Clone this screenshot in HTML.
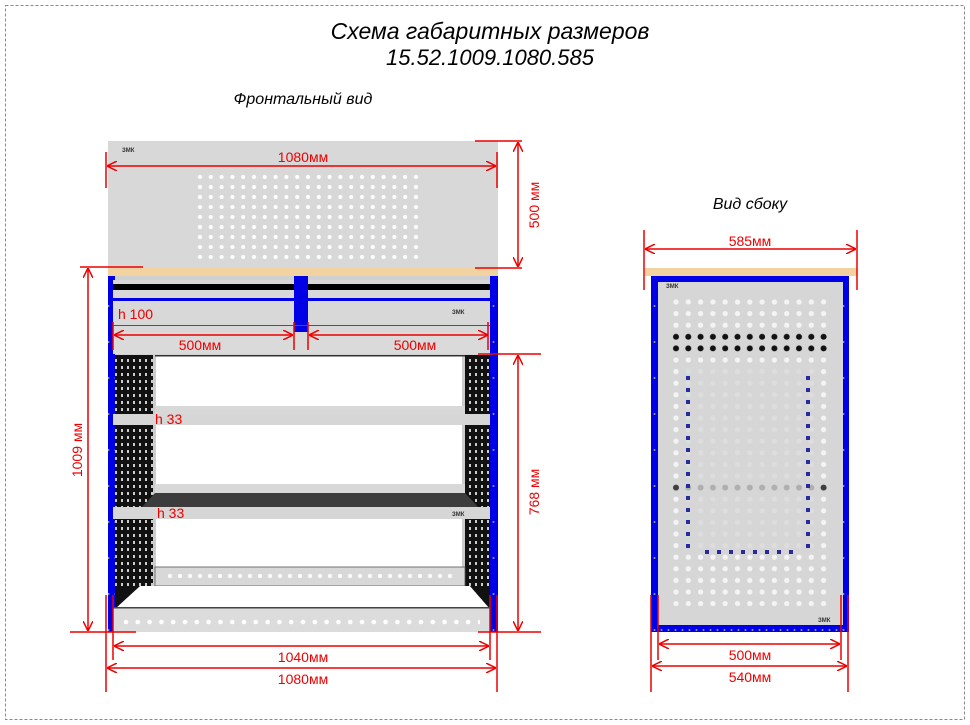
<!DOCTYPE html>
<html><head><meta charset="utf-8"><style>
html,body{margin:0;padding:0;background:#fff;}
svg{display:block;font-family:"Liberation Sans",sans-serif;}
</style></head><body>
<svg width="970" height="725" viewBox="0 0 970 725" xmlns="http://www.w3.org/2000/svg">
<defs>
<pattern id="pd" x="195" y="162" width="10.8" height="10" patternUnits="userSpaceOnUse"><circle cx="5" cy="5" r="2" fill="#fff"/></pattern>
<pattern id="perf" x="0" y="0" width="6" height="7" patternUnits="userSpaceOnUse"><rect width="6" height="7" fill="#111"/><rect x="1" y="2" width="2" height="3" fill="#ccc"/></pattern>
<pattern id="sd" x="670" y="296" width="12.3" height="11.6" patternUnits="userSpaceOnUse"><circle cx="6" cy="6" r="2.6" fill="#f4f4f4"/></pattern>
<pattern id="sdk" x="670" y="296" width="12.3" height="11.6" patternUnits="userSpaceOnUse"><circle cx="6" cy="6" r="3" fill="#111"/></pattern>
<pattern id="bd" x="120" y="610" width="11.8" height="20" patternUnits="userSpaceOnUse"><circle cx="6" cy="12" r="2.3" fill="#fff"/></pattern>
<pattern id="bd2" x="165" y="566" width="10" height="20" patternUnits="userSpaceOnUse"><circle cx="5" cy="10" r="2" fill="#fff"/></pattern>
<pattern id="blue" x="0" y="0" width="7" height="36" patternUnits="userSpaceOnUse"><rect width="7" height="36" fill="#0000e6"/><circle cx="3.5" cy="18" r="1" fill="#99a"/></pattern>
<marker id="a" viewBox="0 0 10 10" refX="10" refY="5" markerWidth="10" markerHeight="10" orient="auto-start-reverse" markerUnits="userSpaceOnUse"><path d="M0,0 L10,5 L0,10" fill="none" stroke="#e00" stroke-width="1.5"/></marker>
</defs>
<rect x="5.5" y="5.5" width="959" height="714" fill="none" stroke="#888" stroke-dasharray="3,2"/>
<g font-style="italic" fill="#000" text-anchor="middle">
<text x="490" y="39" font-size="23">Схема габаритных размеров</text>
<text x="490" y="65" font-size="22">15.52.1009.1080.585</text>
<text x="303" y="104" font-size="16">Фронтальный вид</text>
<text x="750" y="209" font-size="16">Вид сбоку</text>
</g>

<rect x="108" y="141" width="390" height="127" fill="#d8d8d8"/>
<rect x="195" y="170" width="227" height="92" fill="url(#pd)"/>
<text x="122" y="152" font-size="6" font-weight="bold" fill="#333">ЗМК</text>
<rect x="108" y="268" width="390" height="8" fill="#f3d2a2"/>
<rect x="108" y="276" width="390" height="356" fill="#d0d0d0"/>
<rect x="108" y="276" width="7" height="356" fill="url(#blue)"/>
<rect x="490" y="276" width="8" height="356" fill="url(#blue)"/>
<rect x="113" y="280" width="181" height="52" fill="#d8d8d8"/>
<rect x="308" y="280" width="182" height="52" fill="#d8d8d8"/>
<rect x="113" y="284" width="182" height="6" fill="#000"/>
<rect x="308" y="284" width="182" height="6" fill="#000"/>
<rect x="113" y="298" width="182" height="3" fill="#0000e6"/>
<rect x="308" y="298" width="182" height="3" fill="#0000e6"/>
<rect x="294" y="276" width="14" height="56" fill="#0000e6"/>
<rect x="113" y="325" width="377" height="1" fill="#555"/>
<rect x="113" y="332" width="377" height="22" fill="#dadada"/>
<text x="452" y="314" font-size="6" font-weight="bold" fill="#333">ЗМК</text>
<rect x="115" y="355" width="38" height="254" fill="url(#perf)"/>
<rect x="465" y="355" width="25" height="254" fill="url(#perf)"/>
<rect x="153" y="355" width="312" height="253" fill="#fff"/>
<rect x="153" y="355" width="3" height="253" fill="#ccc"/>
<rect x="462" y="355" width="3" height="253" fill="#ccc"/>
<rect x="155" y="355" width="310" height="1.5" fill="#333"/>
<rect x="155" y="406" width="310" height="10" fill="#d8d8d8"/>
<rect x="113" y="414" width="377" height="11" fill="#d6d6d6"/>
<rect x="155" y="484" width="310" height="10" fill="#d8d8d8"/>
<path d="M140,509 L155,493 L465,493 L480,509 Z" fill="#3c3c3c"/>
<rect x="113" y="507" width="377" height="12" fill="#d6d6d6"/>
<text x="452" y="516" font-size="6" font-weight="bold" fill="#333">ЗМК</text>
<rect x="155" y="567" width="310" height="19" fill="#d8d8d8" stroke="#555" stroke-width="0.8"/>
<rect x="165" y="566" width="290" height="20" fill="url(#bd2)"/>
<path d="M113,609 L140,586 L470,586 L490,609 Z" fill="#fff"/>
<path d="M115,609 L115,586 L140,586 Z" fill="#111"/>
<path d="M490,609 L490,586 L470,586 Z" fill="#111"/>
<rect x="113" y="607" width="377" height="25" fill="#dcdcdc"/>
<rect x="113" y="607" width="377" height="1.5" fill="#444"/>
<rect x="120" y="608" width="360" height="22" fill="url(#bd)"/>

<g stroke="#e00" stroke-width="1.5" fill="none">
<line x1="106" y1="152" x2="106" y2="188"/><line x1="497" y1="152" x2="497" y2="188"/>
<line x1="107" y1="166" x2="496" y2="166" marker-start="url(#a)" marker-end="url(#a)"/>
<line x1="475" y1="141" x2="522" y2="141"/><line x1="475" y1="268" x2="522" y2="268"/>
<line x1="518" y1="142" x2="518" y2="267" marker-start="url(#a)" marker-end="url(#a)"/>
<line x1="80" y1="267" x2="143" y2="267"/><line x1="70" y1="632" x2="136" y2="632"/>
<line x1="88" y1="268" x2="88" y2="631" marker-start="url(#a)" marker-end="url(#a)"/>
<line x1="114" y1="335" x2="293" y2="335" marker-start="url(#a)" marker-end="url(#a)"/>
<line x1="309" y1="335" x2="488" y2="335" marker-start="url(#a)" marker-end="url(#a)"/>
<line x1="113" y1="322" x2="113" y2="350"/><line x1="294" y1="322" x2="294" y2="350"/>
<line x1="308" y1="322" x2="308" y2="350"/><line x1="488" y1="322" x2="488" y2="350"/>
<line x1="478" y1="354" x2="541" y2="354"/><line x1="478" y1="632" x2="541" y2="632"/>
<line x1="518" y1="355" x2="518" y2="631" marker-start="url(#a)" marker-end="url(#a)"/>
<line x1="113" y1="595" x2="113" y2="660"/><line x1="490" y1="595" x2="490" y2="660"/>
<line x1="106" y1="595" x2="106" y2="692"/><line x1="497" y1="595" x2="497" y2="692"/>
<line x1="114" y1="646" x2="489" y2="646" marker-start="url(#a)" marker-end="url(#a)"/>
<line x1="107" y1="668" x2="496" y2="668" marker-start="url(#a)" marker-end="url(#a)"/>
</g>
<g fill="#e00" font-size="14" text-anchor="middle">
<text x="303" y="162">1080мм</text>
<text x="534" y="205" transform="rotate(-90 534 205)" dy="5">500 мм</text>
<text x="77" y="450" transform="rotate(-90 77 450)" dy="5">1009 мм</text>
<text x="534" y="492" transform="rotate(-90 534 492)" dy="5">768 мм</text>
<text x="200" y="350">500мм</text>
<text x="415" y="350">500мм</text>
<text x="303" y="662">1040мм</text>
<text x="303" y="684">1080мм</text>
<text x="118" y="319" text-anchor="start">h 100</text>
<text x="155" y="424" text-anchor="start">h 33</text>
<text x="157" y="518" text-anchor="start">h 33</text>
</g>

<rect x="645" y="268" width="212" height="8" fill="#f3d2a2"/>
<rect x="651" y="276" width="198" height="356" fill="url(#blue)"/>
<rect x="658" y="282" width="185" height="343" fill="#d6d6d6"/>
<rect x="670" y="296" width="160" height="310" fill="url(#sd)"/>
<rect x="670" y="333" width="160" height="24" fill="url(#sdk)"/>
<rect x="670" y="484" width="160" height="12" fill="url(#sdk)" opacity="0.8"/>
<rect x="680" y="364" width="138" height="190" fill="#d6d6d6" opacity="0.75"/>
<path d="M705,552 H795" stroke="#2a2aa0" stroke-width="4" stroke-dasharray="4,8"/>
<path d="M688,376 V550 M808,376 V550" stroke="#2a2aa0" stroke-width="4" stroke-dasharray="4,8"/>
<text x="666" y="288" font-size="6" font-weight="bold" fill="#333">ЗМК</text>
<text x="818" y="622" font-size="6" font-weight="bold" fill="#333">ЗМК</text>
<g stroke="#e00" stroke-width="1.5" fill="none">
<line x1="644" y1="230" x2="644" y2="290"/><line x1="857" y1="230" x2="857" y2="290"/>
<line x1="645" y1="249" x2="856" y2="249" marker-start="url(#a)" marker-end="url(#a)"/>
<line x1="651" y1="595" x2="651" y2="692"/><line x1="848" y1="595" x2="848" y2="692"/>
<line x1="658" y1="595" x2="658" y2="660"/><line x1="841" y1="595" x2="841" y2="660"/>
<line x1="659" y1="644" x2="840" y2="644" marker-start="url(#a)" marker-end="url(#a)"/>
<line x1="652" y1="666" x2="847" y2="666" marker-start="url(#a)" marker-end="url(#a)"/>
</g>
<g fill="#e00" font-size="14" text-anchor="middle">
<text x="750" y="246">585мм</text>
<text x="750" y="660">500мм</text>
<text x="750" y="682">540мм</text>
</g>
</svg>
</body></html>
